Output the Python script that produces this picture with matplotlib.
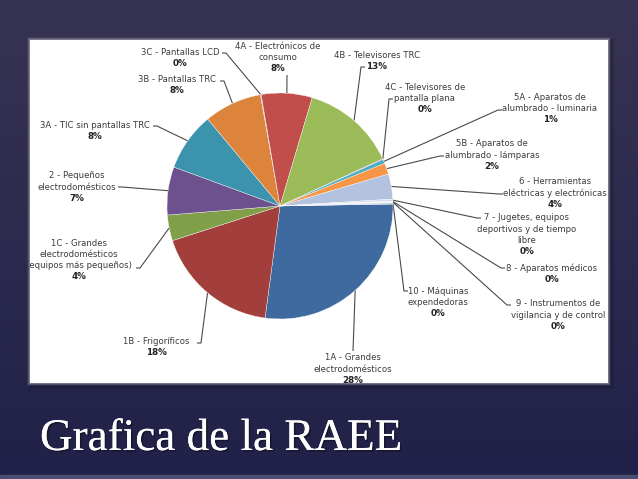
import numpy as np
import matplotlib
matplotlib.use("Agg")
import matplotlib.pyplot as plt
from matplotlib.patches import Rectangle
import matplotlib.patheffects as pe

# ---------------- data ----------------
categories = [
    "1A - Grandes\nelectrodomésticos",
    "1B - Frigoríficos",
    "1C - Grandes\nelectrodomésticos\n(equipos más pequeños)",
    "2 - Pequeños\nelectrodomésticos",
    "3A - TIC sin pantallas TRC",
    "3B - Pantallas TRC",
    "3C - Pantallas LCD",
    "4A - Electrónicos de\nconsumo",
    "4B - Televisores TRC",
    "4C - Televisores de\npantalla plana",
    "5A - Aparatos de\nalumbrado - luminaria",
    "5B - Aparatos de\nalumbrado - lámparas",
    "6 - Herramientas\neléctricas y electrónicas",
    "7 - Jugetes, equipos\ndeportivos y de tiempo\nlibre",
    "8 - Aparatos médicos",
    "9 - Instrumentos de\nvigilancia y de control",
    "10 - Máquinas\nexpendedoras",
]
shares = [27.5, 18.0, 3.7, 6.9, 8.4, 8.3, 0.1, 7.3, 13.6, 0.1,
          0.6, 1.6, 3.6, 0.3, 0.1, 0.1, 0.2]
pct_labels = ["28%", "18%", "4%", "7%", "8%", "8%", "0%", "8%", "13%", "0%",
              "1%", "2%", "4%", "0%", "0%", "0%", "0%"]
title = "Grafica de la RAEE"

# ---------------- style / layout ----------------
colors = ["#3e6a9f", "#a23f3c", "#7f9f49", "#6d508e", "#3b93ad", "#dc843b",
          "#93a9cf", "#c24e4c", "#9bbb59", "#8064a2", "#4bacc6", "#f79646",
          "#b3c2df", "#d6dce9", "#e4e8f0", "#eef0f5", "#c9d2e3"]

W, H = 638, 479
CX, CY, R = 280, 206, 113          # pie center / radius in pixels

# label layout: (center x, first line y) and leader attach point (pixels)
text_pos = [(353, 358), (156, 341), (79, 243), (77, 176), (95, 125),
            (177, 79), (180, 52), (278, 46), (377, 55), (425, 87),
            (550, 97), (492, 144), (555, 182), (527, 218), (552, 268),
            (558, 304), (438, 291)]
attach = [(353, 351), (197, 343), (136, 268), (118, 187), (153, 126),
          (220, 81), (222, 53), (287, 75), (365, 67), (393, 99),
          (502, 110), (444, 156), (503, 194), (481, 218), (505, 268),
          (511, 305), (408, 291)]
tick = [0, 4, 4, 4, 4, 4, 4, 0, 4, 4, 4, 4, 4, 4, 4, 4, 4]
LINE = 11.2

fig = plt.figure(figsize=(W / 100, H / 100), dpi=100)

# background
bg = fig.add_axes([0, 0, 1, 1])
bg.set_xlim(0, W)
bg.set_ylim(H, 0)
bg.axis("off")
grad = np.linspace(0, 1, 256)[:, None]
top = np.array([0x37, 0x33, 0x52]) / 255
bot = np.array([0x21, 0x21, 0x49]) / 255
img = top[None, None, :] * (1 - grad[..., None]) + bot[None, None, :] * grad[..., None]
img = np.repeat(img, 2, axis=1)
bg.imshow(img, extent=[0, W, H, 0], aspect="auto", zorder=0)
bg.add_patch(Rectangle((0, 475), W, 4, color="#4a4d72", zorder=0.5))

# panel glow / shadow
for i, a in enumerate([0.05, 0.08, 0.12, 0.18]):
    d = 5 - i
    bg.add_patch(Rectangle((30 - d + 1.5, 40 - d + 1.5), 578 + 2 * d, 343 + 2 * d,
                           facecolor="#111122", edgecolor="none", alpha=a, zorder=1))
for i, a in enumerate([0.10, 0.18, 0.3]):
    d = 3 - i
    bg.add_patch(Rectangle((30 - d, 40 - d), 578 + 2 * d, 343 + 2 * d,
                           facecolor="#d8d8e0", edgecolor="none", alpha=a, zorder=1.2))
bg.add_patch(Rectangle((30, 40), 578, 343, facecolor="white", edgecolor="none", zorder=2))

# pie
pax = fig.add_axes([(CX - R) / W, (H - CY - R) / H, 2 * R / W, 2 * R / H])
wedges, _ = pax.pie(shares, colors=colors, startangle=1, counterclock=False,
                    radius=1, wedgeprops=dict(edgecolor="white", linewidth=0.25))
pax.set_xlim(-1, 1)
pax.set_ylim(-1, 1)
pax.set_aspect("equal")
pax.axis("off")

to_bg = pax.transData + bg.transData.inverted()
txt_color = "#3c3c3c"
for i, w in enumerate(wedges):
    ang = np.deg2rad((w.theta1 + w.theta2) / 2)
    rx, ry = to_bg.transform((np.cos(ang), np.sin(ang)))
    ax_, ay_ = attach[i]
    if tick[i]:
        d = np.sign(rx - ax_) * tick[i]
        xs, ys = [rx, ax_ + d, ax_], [ry, ay_, ay_]
    else:
        xs, ys = [rx, ax_], [ry, ay_]
    bg.plot(xs, ys, color="#4a4a4a", lw=0.8, zorder=3, solid_capstyle="butt")

    cx, y1 = text_pos[i]
    lines = categories[i].split("\n")
    for k, ln in enumerate(lines):
        bg.text(cx, y1 + k * LINE, ln, ha="center", va="center", fontsize=6.1,
                family="DejaVu Sans", color=txt_color, zorder=4)
    bg.text(cx, y1 + len(lines) * LINE, pct_labels[i], ha="center", va="center",
            fontsize=6.3, family="DejaVu Sans", fontweight="bold", color="#222222",
            zorder=4)

# title
bg.text(40, 450, title, ha="left", va="baseline", fontsize=32.5,
        family="Liberation Serif", color="white", zorder=5,
        path_effects=[pe.withSimplePatchShadow(offset=(1.2, -1.2), shadow_rgbFace="black", alpha=0.35),
                      pe.Normal()])

fig.savefig("out.png", dpi=100)
